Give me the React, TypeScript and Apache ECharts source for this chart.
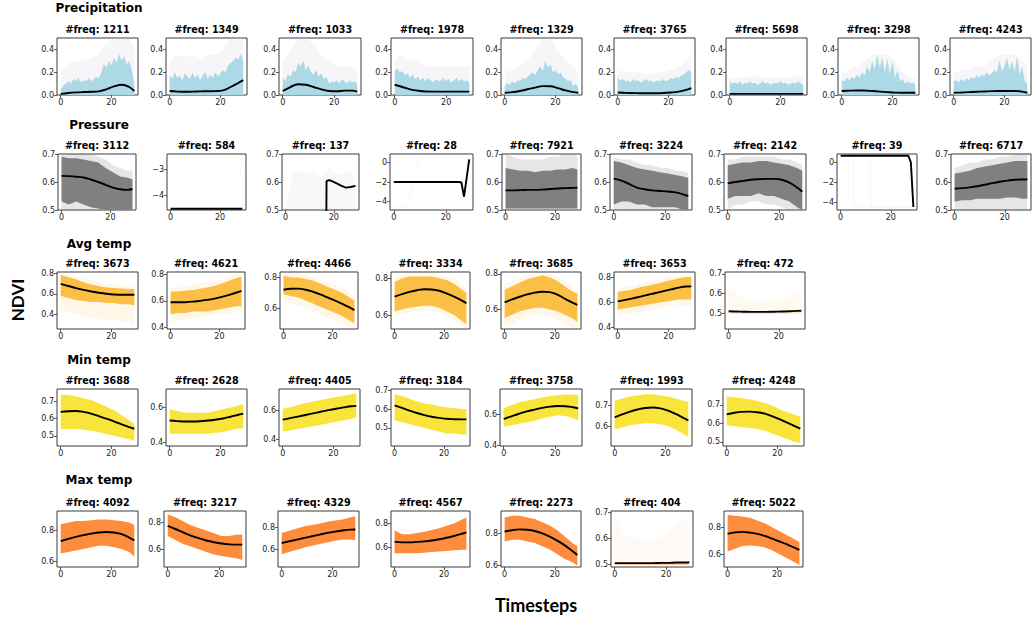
import React, { useEffect, useRef } from "react";
import * as echarts from "echarts";

// ---------- shared sample positions (timesteps) ----------
const T11 = [0, 3, 6, 9, 12, 15, 18, 21, 24, 27, 29];
const T30 = [0, 1, 2, 3, 4, 5, 6, 7, 8, 9, 10, 11, 12, 13, 14, 15, 16, 17, 18, 19, 20, 21, 22, 23, 24, 25, 26, 27, 28, 29];
const X_TICKS = [0, 20];

// ---------- Precipitation ----------
const precipFreq = [1211, 1349, 1033, 1978, 1329, 3765, 5698, 3298, 4243];
const precipHi = [
  [0.05, 0.08, 0.1, 0.12, 0.1, 0.14, 0.12, 0.15, 0.11, 0.13, 0.12, 0.15, 0.12, 0.14, 0.16, 0.15, 0.2, 0.27, 0.24, 0.3, 0.26, 0.33, 0.28, 0.36, 0.3, 0.34, 0.27, 0.3, 0.22, 0.1],
  [0.18, 0.14, 0.2, 0.15, 0.17, 0.13, 0.19, 0.16, 0.14, 0.2, 0.15, 0.18, 0.13, 0.17, 0.2, 0.14, 0.18, 0.15, 0.2, 0.16, 0.19, 0.22, 0.2, 0.26, 0.28, 0.3, 0.33, 0.31, 0.36, 0.3],
  [0.15, 0.12, 0.18, 0.16, 0.22, 0.2, 0.28, 0.25, 0.3, 0.22, 0.26, 0.2, 0.18, 0.22, 0.16, 0.19, 0.14, 0.16, 0.1, 0.12, 0.11, 0.13, 0.1, 0.14, 0.12, 0.1, 0.13, 0.11, 0.12, 0.1],
  [0.22, 0.23, 0.2, 0.21, 0.17, 0.19, 0.15, 0.18, 0.14, 0.16, 0.13, 0.15, 0.12, 0.15, 0.13, 0.11, 0.14, 0.12, 0.13, 0.15, 0.12, 0.14, 0.11, 0.13, 0.15, 0.12, 0.14, 0.12, 0.13, 0.11],
  [0.08, 0.1, 0.09, 0.12, 0.1, 0.13, 0.12, 0.15, 0.14, 0.16, 0.18, 0.2, 0.17, 0.22, 0.25, 0.21, 0.3, 0.24, 0.27, 0.2, 0.22, 0.18, 0.2, 0.16, 0.14, 0.12, 0.13, 0.08, 0.1, 0.06],
  [0.15, 0.13, 0.14, 0.12, 0.13, 0.11, 0.14, 0.12, 0.13, 0.11, 0.12, 0.14, 0.12, 0.13, 0.11, 0.12, 0.13, 0.12, 0.14, 0.12, 0.13, 0.15, 0.14, 0.16, 0.15, 0.17, 0.18, 0.2, 0.22, 0.2],
  [0.12, 0.1, 0.11, 0.1, 0.12, 0.09, 0.11, 0.1, 0.12, 0.1, 0.11, 0.09, 0.1, 0.12, 0.1, 0.11, 0.09, 0.1, 0.11, 0.1, 0.12, 0.1, 0.11, 0.09, 0.1, 0.11, 0.1, 0.12, 0.1, 0.09],
  [0.13, 0.12, 0.15, 0.13, 0.16, 0.14, 0.18, 0.15, 0.2, 0.17, 0.25, 0.2, 0.3, 0.22, 0.35, 0.24, 0.33, 0.2, 0.32, 0.18, 0.3, 0.15, 0.22, 0.12, 0.14, 0.1, 0.12, 0.1, 0.11, 0.09],
  [0.12, 0.13, 0.11, 0.14, 0.12, 0.15, 0.13, 0.16, 0.14, 0.17, 0.15, 0.18, 0.16, 0.2, 0.17, 0.19, 0.22, 0.2, 0.3, 0.21, 0.25, 0.33, 0.22, 0.3, 0.2, 0.34, 0.18, 0.25, 0.12, 0.1],
];
const precipFaint = [
  [0.2, 0.28, 0.3, 0.3, 0.32, 0.35, 0.45, 0.5, 0.5, 0.5, 0.4],
  [0.3, 0.35, 0.33, 0.35, 0.32, 0.35, 0.35, 0.4, 0.5, 0.5, 0.5],
  [0.3, 0.4, 0.5, 0.5, 0.45, 0.35, 0.3, 0.25, 0.25, 0.25, 0.2],
  [0.3, 0.35, 0.3, 0.3, 0.25, 0.25, 0.25, 0.25, 0.25, 0.25, 0.25],
  [0.2, 0.22, 0.25, 0.3, 0.4, 0.5, 0.5, 0.4, 0.3, 0.25, 0.2],
  [0.22, 0.2, 0.2, 0.2, 0.18, 0.2, 0.2, 0.22, 0.25, 0.3, 0.35],
  [0.15, 0.15, 0.15, 0.17, 0.15, 0.15, 0.15, 0.15, 0.15, 0.17, 0.15],
  [0.2, 0.22, 0.25, 0.3, 0.35, 0.35, 0.35, 0.3, 0.2, 0.15, 0.15],
  [0.2, 0.22, 0.22, 0.25, 0.25, 0.3, 0.35, 0.35, 0.35, 0.3, 0.25],
];
const precipMean = [
  [0.01, 0.018, 0.023, 0.026, 0.028, 0.032, 0.05, 0.075, 0.09, 0.07, 0.035],
  [0.035, 0.03, 0.028, 0.03, 0.032, 0.033, 0.034, 0.04, 0.07, 0.105, 0.13],
  [0.035, 0.07, 0.094, 0.09, 0.07, 0.05, 0.035, 0.033, 0.038, 0.038, 0.03],
  [0.09, 0.07, 0.05, 0.038, 0.031, 0.03, 0.03, 0.03, 0.03, 0.03, 0.03],
  [0.02, 0.025, 0.035, 0.05, 0.065, 0.078, 0.077, 0.06, 0.04, 0.025, 0.02],
  [0.022, 0.019, 0.017, 0.016, 0.015, 0.015, 0.017, 0.022, 0.03, 0.045, 0.06],
  [0.01, 0.01, 0.01, 0.01, 0.01, 0.01, 0.01, 0.01, 0.01, 0.01, 0.01],
  [0.035, 0.038, 0.04, 0.039, 0.035, 0.03, 0.025, 0.021, 0.02, 0.02, 0.02],
  [0.02, 0.022, 0.025, 0.028, 0.031, 0.034, 0.035, 0.035, 0.035, 0.03, 0.02],
];
const precipRange = [0, 0.5];
const precipTicks = [0, 0.2, 0.4];

// ---------- Pressure ----------
const pressureFreq = [3112, 584, 137, 28, 7921, 3224, 2142, 39, 6717];
const pressureRange = [[0.5, 0.7], [-4.55, -2.4], [0.5, 0.7], [-4.85, 0.85], [0.5, 0.7], [0.5, 0.7], [0.5, 0.7], [-4.8, 0.83], [0.5, 0.7]];
const pressureTicks = [[0.5, 0.6, 0.7], [-4, -3], [0.5, 0.6, 0.7], [-4, -2, 0], [0.5, 0.6, 0.7], [0.5, 0.6, 0.7], [0.5, 0.6, 0.7], [-4, -2, 0], [0.5, 0.6, 0.7]];
const pressureLo = [
  [0.53, 0.52, 0.53, 0.52, 0.51, 0.505, 0.5, 0.5, 0.5, 0.5, 0.5],
  null,
  null,
  null,
  [0.505, 0.505, 0.505, 0.505, 0.505, 0.505, 0.505, 0.505, 0.505, 0.505, 0.505],
  [0.52, 0.53, 0.53, 0.52, 0.52, 0.51, 0.51, 0.51, 0.51, 0.5, 0.5],
  [0.54, 0.55, 0.55, 0.55, 0.56, 0.55, 0.55, 0.54, 0.53, 0.51, 0.5],
  null,
  [0.53, 0.535, 0.535, 0.54, 0.54, 0.54, 0.54, 0.545, 0.545, 0.54, 0.54],
];
const pressureHi = [
  [0.69, 0.685, 0.685, 0.68, 0.675, 0.67, 0.65, 0.635, 0.62, 0.615, 0.61],
  null,
  null,
  null,
  [0.65, 0.645, 0.64, 0.64, 0.635, 0.64, 0.64, 0.645, 0.645, 0.65, 0.645],
  [0.675, 0.67, 0.66, 0.65, 0.645, 0.64, 0.635, 0.63, 0.625, 0.62, 0.615],
  [0.66, 0.665, 0.67, 0.67, 0.675, 0.675, 0.67, 0.665, 0.66, 0.65, 0.64],
  null,
  [0.63, 0.635, 0.64, 0.65, 0.655, 0.66, 0.665, 0.67, 0.675, 0.675, 0.675],
];
const pressureFaintLo = [
  [0.5, 0.5, 0.5, 0.5, 0.5, 0.5, 0.5, 0.5, 0.5, 0.5, 0.5],
  null,
  [0.5, 0.5, 0.5, 0.5, 0.5, 0.5, 0.5, 0.5, 0.5, 0.5, 0.5],
  null,
  [0.5, 0.5, 0.5, 0.5, 0.5, 0.5, 0.5, 0.5, 0.5, 0.5, 0.5],
  [0.5, 0.5, 0.5, 0.5, 0.5, 0.5, 0.5, 0.5, 0.5, 0.5, 0.5],
  [0.5, 0.52, 0.52, 0.53, 0.53, 0.52, 0.52, 0.51, 0.5, 0.5, 0.5],
  null,
  [0.5, 0.5, 0.5, 0.5, 0.5, 0.5, 0.5, 0.5, 0.5, 0.5, 0.5],
];
const pressureFaintHi = [
  [0.7, 0.7, 0.7, 0.7, 0.7, 0.69, 0.68, 0.66, 0.65, 0.64, 0.64],
  null,
  [0.5, 0.63, 0.64, 0.63, 0.64, 0.62, 0.65, 0.63, 0.63, 0.64, 0.6],
  null,
  [0.7, 0.69, 0.68, 0.68, 0.68, 0.68, 0.69, 0.69, 0.7, 0.7, 0.69],
  [0.69, 0.68, 0.68, 0.67, 0.66, 0.66, 0.65, 0.65, 0.64, 0.64, 0.63],
  [0.68, 0.68, 0.69, 0.69, 0.69, 0.69, 0.69, 0.68, 0.68, 0.67, 0.66],
  null,
  [0.65, 0.66, 0.67, 0.67, 0.68, 0.68, 0.69, 0.69, 0.7, 0.7, 0.7],
];
const pressureMeanT = [T11, [0, 29], [16, 17, 18, 19, 21, 23, 25, 27, 29], [0, 25, 26, 27, 28, 29], T11, T11, T11, [0, 27, 28, 29], T11];
const pressureMean = [
  [0.622, 0.621, 0.619, 0.616, 0.609, 0.6, 0.59, 0.58, 0.574, 0.572, 0.575],
  [-4.5, -4.5],
  [-1, 0.603, 0.607, 0.604, 0.596, 0.587, 0.58, 0.582, 0.586],
  [-2, -2, -2.05, -3.5, -1.6, 0.3],
  [0.57, 0.57, 0.571, 0.572, 0.572, 0.573, 0.575, 0.577, 0.578, 0.579, 0.58],
  [0.612, 0.605, 0.593, 0.58, 0.574, 0.57, 0.568, 0.566, 0.563, 0.556, 0.55],
  [0.595, 0.6, 0.604, 0.608, 0.61, 0.611, 0.611, 0.608, 0.598, 0.58, 0.565],
  [0.65, 0.65, 0.0, -4.5],
  [0.576, 0.578, 0.581, 0.585, 0.59, 0.596, 0.601, 0.605, 0.608, 0.609, 0.61],
];
const pressureSmooth = [true, false, false, false, true, true, true, false, true];
const pressureGhostT = [null, [0, 28, 29], null, [0, 5, 10, 29], null, null, null, [0, 5, 5, 29], null];
const pressureGhostV = [null, [-3.25, -3.25, -2.5], null, [-4.5, -4.5, 0.5, 0.5], null, null, null, [0.65, 0.65, -4.5, -4.5], null];
const pressureGhost2T = [null, null, null, null, null, null, null, [0, 12, 12, 29], null];
const pressureGhost2V = [null, null, null, null, null, null, null, [0.65, 0.65, -4.5, -4.5], null];

// ---------- Avg temp ----------
const avgFreq = [3673, 4621, 4466, 3334, 3685, 3653, 472];
const avgRange = [[0.26, 0.81], [0.39, 0.815], [0.465, 0.835], [0.524, 0.834], [0.49, 0.81], [0.385, 0.84], [0.42, 0.71]];
const avgTicks = [[0.4, 0.6, 0.8], [0.4, 0.6, 0.8], [0.6, 0.8], [0.6, 0.8], [0.6, 0.8], [0.4, 0.6, 0.8], [0.5, 0.6, 0.7]];
const avgLo = [
  [0.58, 0.56, 0.54, 0.53, 0.52, 0.52, 0.51, 0.51, 0.5, 0.5, 0.49],
  [0.5, 0.51, 0.51, 0.52, 0.52, 0.52, 0.53, 0.54, 0.55, 0.56, 0.56],
  [0.69, 0.68, 0.67, 0.65, 0.63, 0.61, 0.59, 0.57, 0.55, 0.52, 0.5],
  [0.62, 0.63, 0.64, 0.645, 0.65, 0.65, 0.64, 0.62, 0.6, 0.57, 0.55],
  [0.55, 0.57, 0.59, 0.6, 0.61, 0.61, 0.6, 0.59, 0.57, 0.55, 0.53],
  [0.54, 0.55, 0.56, 0.57, 0.58, 0.59, 0.6, 0.61, 0.62, 0.62, 0.62],
  [0.5, 0.5, 0.5, 0.5, 0.5, 0.5, 0.5, 0.5, 0.5, 0.5, 0.5],
];
const avgHi = [
  [0.78, 0.76, 0.74, 0.71, 0.69, 0.675, 0.66, 0.655, 0.65, 0.645, 0.645],
  [0.67, 0.67, 0.675, 0.68, 0.69, 0.7, 0.71, 0.73, 0.75, 0.77, 0.78],
  [0.81, 0.8, 0.8, 0.79, 0.78, 0.76, 0.74, 0.72, 0.7, 0.67, 0.65],
  [0.78, 0.8, 0.81, 0.81, 0.81, 0.81, 0.8, 0.79, 0.77, 0.74, 0.72],
  [0.71, 0.73, 0.75, 0.77, 0.78, 0.79, 0.78, 0.76, 0.73, 0.7, 0.69],
  [0.68, 0.69, 0.7, 0.72, 0.73, 0.745, 0.76, 0.775, 0.79, 0.8, 0.8],
  [0.503, 0.503, 0.503, 0.503, 0.503, 0.503, 0.503, 0.503, 0.503, 0.503, 0.503],
];
const avgFaintLo = [
  [0.45, 0.42, 0.4, 0.38, 0.37, 0.36, 0.35, 0.35, 0.34, 0.33, 0.3],
  [0.43, 0.45, 0.46, 0.47, 0.48, 0.49, 0.5, 0.5, 0.51, 0.52, 0.52],
  [0.64, 0.63, 0.62, 0.6, 0.58, 0.56, 0.54, 0.52, 0.5, 0.48, 0.47],
  [0.59, 0.6, 0.61, 0.62, 0.62, 0.62, 0.61, 0.59, 0.57, 0.54, 0.53],
  [0.5, 0.52, 0.54, 0.56, 0.57, 0.57, 0.56, 0.54, 0.52, 0.5, 0.5],
  [0.48, 0.5, 0.51, 0.52, 0.53, 0.54, 0.56, 0.57, 0.58, 0.57, 0.56],
  [0.5, 0.5, 0.5, 0.5, 0.5, 0.5, 0.5, 0.5, 0.5, 0.5, 0.5],
];
const avgFaintHi = [
  [0.8, 0.79, 0.77, 0.75, 0.73, 0.71, 0.7, 0.69, 0.68, 0.68, 0.68],
  [0.7, 0.7, 0.71, 0.72, 0.73, 0.74, 0.75, 0.76, 0.78, 0.8, 0.8],
  [0.83, 0.83, 0.83, 0.82, 0.8, 0.78, 0.77, 0.75, 0.73, 0.7, 0.68],
  [0.8, 0.82, 0.83, 0.83, 0.83, 0.83, 0.82, 0.81, 0.8, 0.77, 0.75],
  [0.74, 0.76, 0.78, 0.8, 0.8, 0.8, 0.8, 0.78, 0.76, 0.72, 0.7],
  [0.7, 0.72, 0.73, 0.75, 0.76, 0.77, 0.79, 0.8, 0.81, 0.82, 0.82],
  [0.64, 0.6, 0.58, 0.57, 0.56, 0.56, 0.57, 0.57, 0.58, 0.6, 0.6],
];
const avgMean = [
  [0.695, 0.675, 0.655, 0.637, 0.622, 0.61, 0.6, 0.593, 0.59, 0.59, 0.59],
  [0.59, 0.589, 0.59, 0.594, 0.6, 0.607, 0.617, 0.63, 0.645, 0.662, 0.675],
  [0.72, 0.726, 0.727, 0.72, 0.707, 0.69, 0.67, 0.65, 0.628, 0.605, 0.588],
  [0.7, 0.714, 0.726, 0.735, 0.74, 0.739, 0.732, 0.718, 0.7, 0.68, 0.665],
  [0.64, 0.656, 0.671, 0.684, 0.694, 0.699, 0.697, 0.683, 0.66, 0.638, 0.625],
  [0.605, 0.617, 0.63, 0.644, 0.658, 0.672, 0.687, 0.701, 0.715, 0.724, 0.725],
  [0.51, 0.509, 0.508, 0.507, 0.507, 0.507, 0.508, 0.509, 0.51, 0.512, 0.513],
];

// ---------- Min temp ----------
const minFreq = [3688, 2628, 4405, 3184, 3758, 1993, 4248];
const minRange = [[0.44, 0.774], [0.38, 0.705], [0.353, 0.746], [0.403, 0.707], [0.395, 0.766], [0.508, 0.775], [0.478, 0.785]];
const minTicks = [[0.5, 0.6, 0.7], [0.4, 0.6], [0.4, 0.6], [0.5, 0.6, 0.7], [0.4, 0.6], [0.6, 0.7], [0.5, 0.6, 0.7]];
const minLo = [
  [0.54, 0.54, 0.54, 0.535, 0.53, 0.52, 0.51, 0.5, 0.49, 0.48, 0.47],
  [0.45, 0.45, 0.45, 0.45, 0.45, 0.45, 0.455, 0.46, 0.47, 0.48, 0.48],
  [0.455, 0.46, 0.47, 0.48, 0.49, 0.5, 0.51, 0.52, 0.53, 0.54, 0.55],
  [0.54, 0.53, 0.52, 0.51, 0.5, 0.49, 0.48, 0.47, 0.47, 0.465, 0.465],
  [0.52, 0.53, 0.54, 0.55, 0.56, 0.575, 0.585, 0.595, 0.59, 0.575, 0.56],
  [0.585, 0.595, 0.605, 0.61, 0.615, 0.615, 0.61, 0.6, 0.585, 0.565, 0.55],
  [0.59, 0.585, 0.58, 0.575, 0.57, 0.56, 0.545, 0.53, 0.515, 0.5, 0.495],
];
const minHi = [
  [0.74, 0.74, 0.73, 0.72, 0.71, 0.69, 0.67, 0.65, 0.62, 0.59, 0.57],
  [0.59, 0.58, 0.57, 0.57, 0.57, 0.57, 0.58, 0.59, 0.6, 0.61, 0.62],
  [0.61, 0.62, 0.635, 0.65, 0.66, 0.67, 0.68, 0.69, 0.7, 0.71, 0.715],
  [0.68, 0.67, 0.655, 0.64, 0.63, 0.625, 0.615, 0.61, 0.605, 0.6, 0.6],
  [0.64, 0.66, 0.68, 0.69, 0.7, 0.71, 0.72, 0.725, 0.73, 0.73, 0.725],
  [0.72, 0.73, 0.74, 0.745, 0.75, 0.75, 0.745, 0.74, 0.73, 0.72, 0.715],
  [0.745, 0.74, 0.735, 0.73, 0.72, 0.71, 0.695, 0.675, 0.66, 0.645, 0.635],
];
const minMean = [
  [0.64, 0.644, 0.645, 0.64, 0.63, 0.615, 0.6, 0.584, 0.567, 0.551, 0.541],
  [0.525, 0.522, 0.52, 0.52, 0.521, 0.525, 0.53, 0.537, 0.547, 0.558, 0.565],
  [0.535, 0.545, 0.556, 0.567, 0.578, 0.589, 0.6, 0.61, 0.619, 0.627, 0.63],
  [0.62, 0.606, 0.592, 0.579, 0.568, 0.559, 0.553, 0.548, 0.546, 0.545, 0.545],
  [0.57, 0.588, 0.605, 0.62, 0.632, 0.643, 0.651, 0.655, 0.654, 0.647, 0.64],
  [0.642, 0.656, 0.669, 0.679, 0.686, 0.688, 0.684, 0.674, 0.658, 0.64, 0.628],
  [0.648, 0.657, 0.662, 0.663, 0.66, 0.652, 0.638, 0.621, 0.603, 0.584, 0.572],
];

// ---------- Max temp ----------
const maxFreq = [4092, 3217, 4329, 4567, 2273, 404, 5022];
const maxRange = [[0.563, 0.925], [0.467, 0.887], [0.445, 0.946], [0.435, 0.904], [0.59, 0.94], [0.49, 0.705], [0.505, 0.92]];
const maxTicks = [[0.6, 0.8], [0.6, 0.8], [0.6, 0.8], [0.6, 0.8], [0.6, 0.8], [0.5, 0.6, 0.7], [0.6, 0.8]];
const maxLo = [
  [0.65, 0.66, 0.67, 0.68, 0.69, 0.7, 0.7, 0.69, 0.68, 0.66, 0.63],
  [0.7, 0.67, 0.64, 0.62, 0.6, 0.58, 0.56, 0.55, 0.54, 0.53, 0.52],
  [0.56, 0.58, 0.6, 0.62, 0.635, 0.65, 0.665, 0.68, 0.69, 0.69, 0.685],
  [0.55, 0.55, 0.55, 0.55, 0.555, 0.56, 0.565, 0.57, 0.575, 0.58, 0.58],
  [0.75, 0.76, 0.76, 0.75, 0.74, 0.72, 0.7, 0.67, 0.64, 0.62, 0.6],
  [0.5, 0.5, 0.5, 0.5, 0.5, 0.5, 0.5, 0.5, 0.5, 0.5, 0.5],
  [0.62, 0.64, 0.66, 0.665, 0.66, 0.65, 0.63, 0.6, 0.57, 0.54, 0.52],
];
const maxHi = [
  [0.84, 0.85, 0.86, 0.86, 0.865, 0.87, 0.87, 0.865, 0.86, 0.85, 0.835],
  [0.86, 0.84, 0.81, 0.78, 0.76, 0.74, 0.72, 0.7, 0.7, 0.71, 0.71],
  [0.75, 0.77, 0.79, 0.81, 0.82, 0.835, 0.85, 0.86, 0.87, 0.89, 0.9],
  [0.74, 0.71, 0.71, 0.72, 0.73, 0.745, 0.76, 0.78, 0.8, 0.83, 0.85],
  [0.9, 0.91, 0.91, 0.9, 0.89, 0.87, 0.85, 0.82, 0.78, 0.74, 0.72],
  [0.503, 0.503, 0.503, 0.503, 0.503, 0.503, 0.503, 0.503, 0.503, 0.503, 0.503],
  [0.89, 0.885, 0.88, 0.87, 0.85, 0.83, 0.8, 0.77, 0.74, 0.71, 0.69],
];
const maxMean = [
  [0.73, 0.745, 0.758, 0.769, 0.779, 0.786, 0.789, 0.786, 0.775, 0.753, 0.735],
  [0.775, 0.752, 0.727, 0.703, 0.683, 0.666, 0.653, 0.643, 0.637, 0.635, 0.635],
  [0.66, 0.675, 0.69, 0.705, 0.72, 0.735, 0.75, 0.762, 0.772, 0.779, 0.78],
  [0.645, 0.641, 0.641, 0.645, 0.65, 0.657, 0.667, 0.68, 0.695, 0.712, 0.725],
  [0.812, 0.82, 0.825, 0.823, 0.815, 0.8, 0.78, 0.755, 0.725, 0.69, 0.665],
  [0.505, 0.505, 0.505, 0.505, 0.505, 0.505, 0.506, 0.506, 0.507, 0.507, 0.508],
  [0.75, 0.762, 0.765, 0.76, 0.75, 0.735, 0.715, 0.694, 0.672, 0.648, 0.632],
];
const maxFaintHi = [null, null, null, null, null, [0.7, 0.62, 0.6, 0.6, 0.58, 0.6, 0.6, 0.62, 0.65, 0.68, 0.66], null];
const maxFaintLo = [null, null, null, null, null, [0.5, 0.5, 0.5, 0.5, 0.5, 0.5, 0.5, 0.5, 0.5, 0.5, 0.5], null];

// ---------- layout ----------
const ROWS = [
  { label: "Precipitation", top: 38, height: 57, lefts: [57, 166, 279, 391, 501, 614, 726, 838, 950], widths: [81, 81, 82, 82, 81, 81, 81, 81, 81] },
  { label: "Pressure", top: 154, height: 56, lefts: [58, 167, 282, 390, 502, 610, 724, 837, 951], widths: [78, 79, 77, 83, 79, 82, 82, 80, 80] },
  { label: "Avg temp", top: 272, height: 57, lefts: [57, 167, 280, 391, 501, 614, 725], widths: [81, 78, 78, 79, 80, 81, 80] },
  { label: "Min temp", top: 389, height: 57, lefts: [57, 166, 279, 391, 500, 611, 723], widths: [81, 81, 81, 79, 82, 81, 81] },
  { label: "Max temp", top: 511, height: 56, lefts: [57, 164, 278, 391, 501, 611, 724], widths: [81, 82, 81, 79, 80, 82, 79] },
];
const ROW_LABEL_Y = [8, 125, 244, 360, 480];

const COLORS = {
  precip: "#ADD8E6",
  precipFaint: "#d3d3e0",
  pressure: "#808080",
  avg: "#FBBF45",
  min: "#F8E43A",
  max: "#FD8D3C",
};

const FONT = '"DejaVu Sans", sans-serif';

type Band = { t: number[]; lo: number[]; hi: number[]; color: string; opacity: number };
type Panel = {
  row: number;
  col: number;
  freq: number;
  range: number[];
  ticks: number[];
  dec: number;
  bands: Band[];
  mean: { t: number[]; v: number[]; smooth: boolean };
  ghosts: { t: number[]; v: number[] }[];
};

const ZERO11 = [0, 0, 0, 0, 0, 0, 0, 0, 0, 0, 0];
const ZERO30 = T30.map(() => 0);

function buildPanels(): Panel[] {
  const panels: Panel[] = [];
  precipFreq.forEach((f, i) => {
    panels.push({
      row: 0, col: i, freq: f, range: precipRange, ticks: precipTicks, dec: 1,
      bands: [
        { t: T11, lo: ZERO11, hi: precipFaint[i], color: COLORS.precipFaint, opacity: 0.2 },
        { t: T30, lo: ZERO30, hi: precipHi[i], color: COLORS.precip, opacity: 1 },
      ],
      mean: { t: T11, v: precipMean[i], smooth: true },
      ghosts: [],
    });
  });
  pressureFreq.forEach((f, i) => {
    const p: Panel = {
      row: 1, col: i, freq: f, range: pressureRange[i], ticks: pressureTicks[i],
      dec: pressureTicks[i][0] < 0 ? 0 : 1,
      bands: [],
      mean: { t: pressureMeanT[i], v: pressureMean[i], smooth: pressureSmooth[i] },
      ghosts: [],
    };
    if (pressureFaintLo[i]) p.bands.push({ t: T11, lo: pressureFaintLo[i]!, hi: pressureFaintHi[i]!, color: COLORS.pressure, opacity: i === 2 ? 0.06 : 0.2 });
    if (pressureLo[i]) p.bands.push({ t: T11, lo: pressureLo[i]!, hi: pressureHi[i]!, color: COLORS.pressure, opacity: 1 });
    if (pressureGhostT[i]) p.ghosts.push({ t: pressureGhostT[i]!, v: pressureGhostV[i]! });
    if (pressureGhost2T[i]) p.ghosts.push({ t: pressureGhost2T[i]!, v: pressureGhost2V[i]! });
    panels.push(p);
  });
  avgFreq.forEach((f, i) => {
    panels.push({
      row: 2, col: i, freq: f, range: avgRange[i], ticks: avgTicks[i], dec: 1,
      bands: [
        { t: T11, lo: avgFaintLo[i], hi: avgFaintHi[i], color: COLORS.avg, opacity: i === 6 ? 0.08 : 0.12 },
        { t: T11, lo: avgLo[i], hi: avgHi[i], color: COLORS.avg, opacity: 1 },
      ],
      mean: { t: T11, v: avgMean[i], smooth: true },
      ghosts: [],
    });
  });
  minFreq.forEach((f, i) => {
    panels.push({
      row: 3, col: i, freq: f, range: minRange[i], ticks: minTicks[i], dec: 1,
      bands: [{ t: T11, lo: minLo[i], hi: minHi[i], color: COLORS.min, opacity: 1 }],
      mean: { t: T11, v: minMean[i], smooth: true },
      ghosts: [],
    });
  });
  maxFreq.forEach((f, i) => {
    const p: Panel = {
      row: 4, col: i, freq: f, range: maxRange[i], ticks: maxTicks[i], dec: 1,
      bands: [],
      mean: { t: T11, v: maxMean[i], smooth: true },
      ghosts: [],
    };
    if (maxFaintHi[i]) p.bands.push({ t: T11, lo: maxFaintLo[i]!, hi: maxFaintHi[i]!, color: COLORS.max, opacity: 0.05 });
    p.bands.push({ t: T11, lo: maxLo[i], hi: maxHi[i], color: COLORS.max, opacity: 1 });
    panels.push(p);
  });
  return panels;
}

function fmt(v: number, dec: number) {
  return v.toFixed(dec).replace("-", "\u2212");
}

function bandSeries(b: Band, gi: number, range: number[], z: number) {
  // polygon outline: upper edge left→right, then lower edge right→left
  const data: number[][] = [];
  b.t.forEach((t, k) => data.push([t, b.hi[k]]));
  for (let k = b.t.length - 1; k >= 0; k--) data.push([b.t[k], b.lo[k]]);
  return {
    type: "custom",
    xAxisIndex: gi,
    yAxisIndex: gi,
    silent: true,
    z,
    data,
    clip: true,
    renderItem: (params: any, api: any) => {
      if (params.dataIndex !== 0) return null;
      const pts = data.map(([t, v]) => api.coord([t, Math.max(range[0], Math.min(range[1], v))]));
      return { type: "polygon", shape: { points: pts }, style: { fill: b.color, opacity: b.opacity } };
    },
  };
}

function buildOption() {
  const panels = buildPanels();
  const grid: any[] = [];
  const xAxis: any[] = [];
  const yAxis: any[] = [];
  const series: any[] = [];
  const graphic: any[] = [];

  ROWS.forEach((r, ri) => {
    graphic.push({
      type: "text", x: 99, y: ROW_LABEL_Y[ri],
      style: { text: r.label, font: `bold 12px ${FONT}`, fill: "#000", align: "center", verticalAlign: "middle", textAlign: "center", textVerticalAlign: "middle" },
    });
  });

  panels.forEach((p, gi) => {
    const r = ROWS[p.row];
    const left = r.lefts[p.col];
    const width = r.widths[p.col];
    grid.push({ left, top: r.top, width, height: r.height, show: true, borderColor: "#3a3a3a", borderWidth: 1, backgroundColor: "transparent" });
    xAxis.push({
      type: "value", gridIndex: gi, min: -1.45, max: 30.45, position: "bottom",
      axisLine: { show: false, onZero: false }, splitLine: { show: false },
      axisTick: { show: true, customValues: X_TICKS, length: 3, lineStyle: { color: "#333", width: 0.8 } },
      axisLabel: { customValues: X_TICKS, fontSize: 8, color: "#222", margin: 3, fontFamily: FONT, formatter: (v: number) => String(v) },
    });
    yAxis.push({
      type: "value", gridIndex: gi, min: p.range[0], max: p.range[1], position: "left",
      axisLine: { show: false, onZero: false }, splitLine: { show: false },
      axisTick: { show: true, customValues: p.ticks, length: 3, lineStyle: { color: "#333", width: 0.8 } },
      axisLabel: { customValues: p.ticks, fontSize: 8, color: "#222", margin: 3, fontFamily: FONT, formatter: (v: number) => fmt(v, p.dec) },
    });
    p.bands.forEach((b, bi) => series.push(bandSeries(b, gi, p.range, 1 + bi)));
    p.ghosts.forEach((g) => {
      series.push({
        type: "line", xAxisIndex: gi, yAxisIndex: gi, symbol: "none", silent: true,
        data: g.t.map((t, k) => [t, g.v[k]]), lineStyle: { color: "#aaa", width: 0.8, opacity: 0.12 }, z: 3,
      });
    });
    series.push({
      type: "line", xAxisIndex: gi, yAxisIndex: gi, symbol: "none", silent: true,
      data: p.mean.t.map((t, k) => [t, p.mean.v[k]]), smooth: p.mean.smooth ? 0.4 : false,
      lineStyle: { color: "#000", width: 1.9 }, z: 5,
    });
    graphic.push({
      type: "text", x: left + width / 2, y: r.top - 9,
      style: { text: "#freq: " + p.freq, font: `bold 9.6px ${FONT}`, fill: "#000", align: "center", verticalAlign: "middle", textAlign: "center", textVerticalAlign: "middle" },
    });
  });

  graphic.push({
    type: "text", x: 17, y: 300, rotation: Math.PI / 2,
    style: { text: "NDVI", font: 'bold 17px Lato, "DejaVu Sans", sans-serif', fill: "#000", align: "center", verticalAlign: "middle", textAlign: "center", textVerticalAlign: "middle" },
  });
  graphic.push({
    type: "text", x: 536, y: 605,
    style: { text: "Timesteps", font: 'bold 18px Lato, "DejaVu Sans", sans-serif', fill: "#000", align: "center", verticalAlign: "middle", textAlign: "center", textVerticalAlign: "middle" },
  });

  return { animation: false, backgroundColor: "#ffffff", grid, xAxis, yAxis, series, graphic };
}

export default function App() {
  const ref = useRef<HTMLDivElement>(null);
  useEffect(() => {
    document.body.style.margin = "0";
    const chart = echarts.init(ref.current!, undefined, { renderer: "svg" });
    chart.setOption(buildOption() as any);
    return () => chart.dispose();
  }, []);
  return <div ref={ref} style={{ width: 1032, height: 619, position: "absolute", left: 0, top: 0 }} />;
}
